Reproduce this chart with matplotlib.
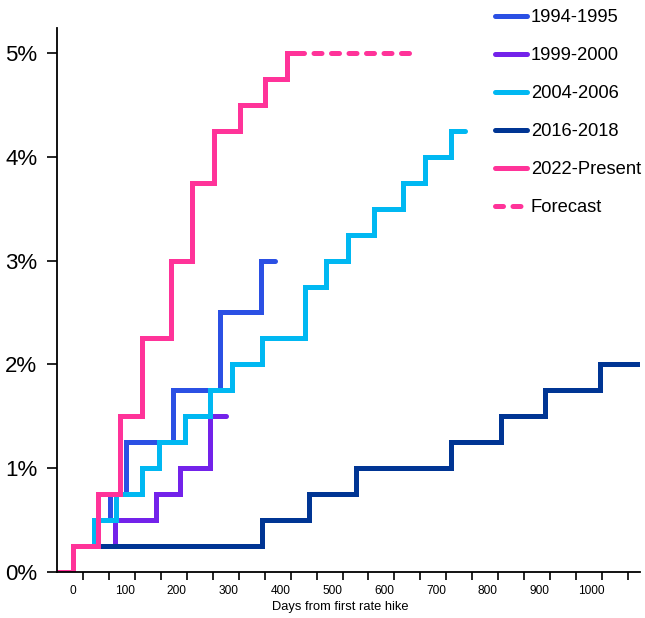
import matplotlib
matplotlib.use("Agg")
import matplotlib.pyplot as plt
import matplotlib.ticker as mticker
from matplotlib.lines import Line2D

plt.rcParams["font.family"] = ["Liberation Sans", "DejaVu Sans"]

# ── Cumulative hikes (percentage points) by days since first hike ──────────
days_1994 = [-30, 0, 46, 73, 102, 193, 284, 362, 390]
rate_1994 = [0, 0.25, 0.5, 0.75, 1.25, 1.75, 2.5, 3.0, 3.0]

days_1999 = [-30, 0, 82, 160, 207, 265, 296]
rate_1999 = [0, 0.25, 0.5, 0.75, 1.0, 1.5, 1.5]

days_2004 = [-30, 0, 41, 83, 133, 167, 217, 265, 307, 365, 447, 489, 531, 580, 636, 679, 729, 756]
rate_2004 = [0, 0.25, 0.5, 0.75, 1.0, 1.25, 1.5, 1.75, 2.0, 2.25, 2.75, 3.0, 3.25, 3.5, 3.75, 4.0, 4.25, 4.25]

days_2016 = [-30, 0, 364, 455, 546, 728, 826, 910, 1015, 1095]
rate_2016 = [0, 0.25, 0.5, 0.75, 1.0, 1.25, 1.5, 1.75, 2.0, 2.0]

days_2022 = [-30, 0, 49, 91, 133, 189, 231, 273, 322, 371, 413, 430]
rate_2022 = [0, 0.25, 0.75, 1.5, 2.25, 3.0, 3.75, 4.25, 4.5, 4.75, 5.0, 5.0]

days_fcst = [430, 652]
rate_fcst = [5.0, 5.0]

COLORS = {
    "1994-1995": "#2B50E4",
    "1999-2000": "#7322EA",
    "2004-2006": "#00B8F2",
    "2016-2018": "#003594",
    "2022-Present": "#FF3399",
}
LW = 3.6
DASH = (1.6, 1.9)

fig = plt.figure(figsize=(6.45, 6.18), dpi=100)
ax = fig.add_axes([57 / 645, 1 - 571.7 / 618, (640 - 57) / 645, (571.7 - 28.3) / 618])

series = [
    (days_1994, rate_1994, "1994-1995"),
    (days_1999, rate_1999, "1999-2000"),
    (days_2004, rate_2004, "2004-2006"),
    (days_2016, rate_2016, "2016-2018"),
    (days_2022, rate_2022, "2022-Present"),
]
for d, r, label in series:
    ax.step(d, r, where="post", color=COLORS[label], lw=LW,
            solid_capstyle="round", solid_joinstyle="miter", label=label)

ax.plot(days_fcst, rate_fcst, color=COLORS["2022-Present"], lw=LW,
        dashes=DASH, dash_capstyle="round", label="Forecast")

ax.set_ylim(0, 5.24)

# Labels every 100 days, tick marks sitting between them every 50
ax.xaxis.set_major_locator(mticker.MultipleLocator(100))
ax.xaxis.set_minor_locator(mticker.FixedLocator(list(range(20, 1093, 50))))
ax.tick_params(axis="x", which="major", length=0, labelsize=8.6, pad=9.4)
ax.tick_params(axis="x", which="minor", length=6, width=1.2, direction="out")
ax.set_xlim(-30, 1093)

ax.yaxis.set_major_locator(mticker.MultipleLocator(1))
ax.yaxis.set_major_formatter(mticker.FuncFormatter(lambda v, _: f"{v:.0f}%"))
ax.tick_params(axis="y", length=7, width=1.2, labelsize=16, pad=7.3)

for side in ("top", "right"):
    ax.spines[side].set_visible(False)
for side in ("left", "bottom"):
    ax.spines[side].set_linewidth(1.3)

ax.set_xlabel("Days from first rate hike", fontsize=9.3)
ax.xaxis.set_label_coords(0.485, -0.054)

handles = [Line2D([], [], color=COLORS[k], lw=LW, solid_capstyle="round") for k in COLORS]
handles.append(Line2D([], [], color=COLORS["2022-Present"], lw=LW, dashes=DASH, dash_capstyle="round"))
labels = list(COLORS) + ["Forecast"]
fig.legend(handles, labels, loc="upper left", bbox_to_anchor=(495 / 645, 1 - 9 / 618),
           frameon=False, fontsize=13.2, handlelength=1.75, handletextpad=0.2,
           labelspacing=1.15, borderaxespad=0, borderpad=0)

fig.savefig("out.png", dpi=100)
